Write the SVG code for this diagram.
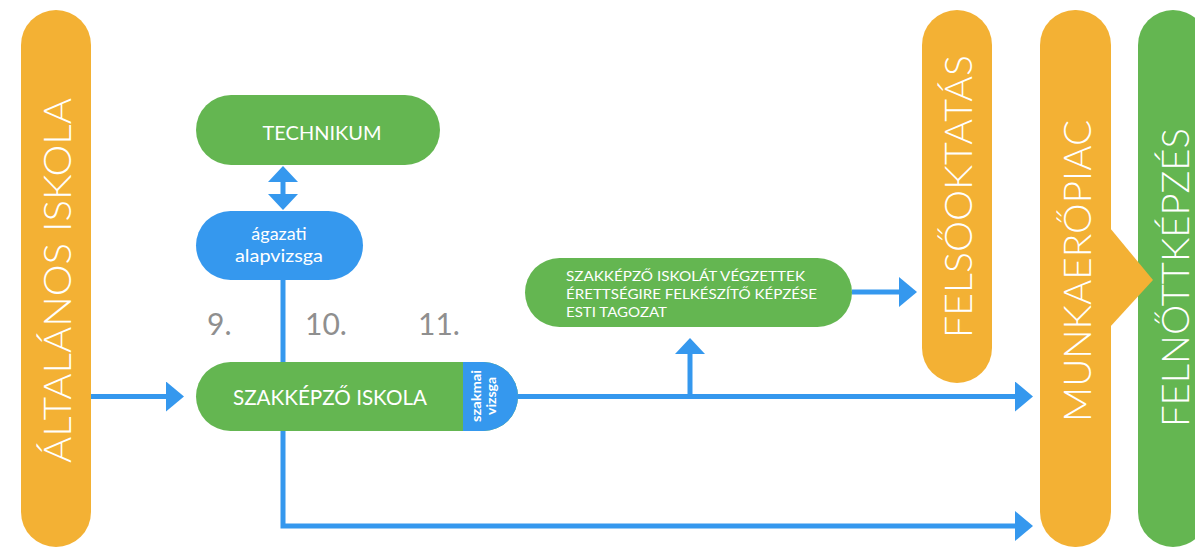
<svg xmlns="http://www.w3.org/2000/svg" width="1195" height="548" viewBox="0 0 1195 548">
<style>
.org{fill:#f3b134}
.grn{fill:#64b651}
.blu{fill:#3598ee}
.big{font-family:Lato,"Open Sans","Liberation Sans",sans-serif;font-weight:300;font-size:38px;fill:#fff;text-anchor:middle}
.lbl{font-family:Lato,"Open Sans","Liberation Sans",sans-serif;fill:#fff;text-anchor:middle}
.num{font-family:Lato,"Open Sans","Liberation Sans",sans-serif;font-size:30px;fill:#8f8f8f}
.con{fill:none;stroke:#3598ee;stroke-width:5}
</style>
<defs>
<marker id="ah" viewBox="0 0 18 30" refX="0" refY="15" markerWidth="18" markerHeight="30" markerUnits="userSpaceOnUse" orient="auto-start-reverse">
<path d="M0,0 L18,15 L0,30 Z" fill="#3598ee"/>
</marker>
<marker id="ah2" viewBox="0 0 16 30" refX="0" refY="15" markerWidth="16" markerHeight="30" markerUnits="userSpaceOnUse" orient="auto-start-reverse">
<path d="M0,0 L16,15 L0,30 Z" fill="#3598ee"/>
</marker>
</defs>

<g id="altalanos">
<rect class="org" x="21" y="10" width="70" height="537" rx="35"/>
<text class="big" transform="translate(71,280.5) rotate(-90)" textLength="365" lengthAdjust="spacingAndGlyphs">ÁLTALÁNOS ISKOLA</text>
</g>

<g id="felnottkepzes">
<rect class="grn" x="1138" y="10" width="70" height="537" rx="35"/>
<text class="big" transform="translate(1189,277.5) rotate(-90)" textLength="299" lengthAdjust="spacingAndGlyphs">FELNŐTTKÉPZÉS</text>
</g>

<g id="munkaeropiac">
<rect class="org" x="1040" y="10" width="71" height="537" rx="35"/>
<polygon class="org" points="1110,228 1153,280 1110,327"/>
<text class="big" transform="translate(1091,271) rotate(-90)" textLength="302" lengthAdjust="spacingAndGlyphs">MUNKAERŐPIAC</text>
</g>

<g id="felsooktatas">
<rect class="org" x="922" y="10" width="70" height="373" rx="35"/>
<text class="big" transform="translate(972,196.5) rotate(-90)" textLength="283" lengthAdjust="spacingAndGlyphs">FELSŐOKTATÁS</text>
</g>

<g id="technikum">
<rect class="grn" x="196" y="95" width="244" height="70" rx="35"/>
<text class="lbl" x="322" y="140" font-size="20" textLength="119" lengthAdjust="spacingAndGlyphs">TECHNIKUM</text>
</g>

<g id="agazati">
<rect class="blu" x="196" y="211" width="167" height="69" rx="34.5"/>
<text class="lbl" x="279" y="240" font-size="18">ágazati</text>
<text class="lbl" x="279" y="262" font-size="18" textLength="88" lengthAdjust="spacingAndGlyphs">alapvizsga</text>
</g>

<g id="szakkepzo">
<rect class="grn" x="196" y="362" width="322" height="69" rx="34.5"/>
<path class="blu" d="M463,362 H483.5 A34.5,34.5 0 0 1 483.5,431 H463 Z"/>
<text class="lbl" x="330" y="405" font-size="21" textLength="194" lengthAdjust="spacingAndGlyphs">SZAKKÉPZŐ ISKOLA</text>
<text class="lbl" transform="translate(481,396) rotate(-90)" font-size="13" font-weight="bold" textLength="52" lengthAdjust="spacingAndGlyphs">szakmai</text>
<text class="lbl" transform="translate(496,396) rotate(-90)" font-size="13" font-weight="bold" textLength="38" lengthAdjust="spacingAndGlyphs">vizsga</text>
</g>

<g id="esti">
<rect class="grn" x="525" y="258" width="327" height="69" rx="34.5"/>
<g font-family="Lato,'Open Sans','Liberation Sans',sans-serif" font-size="14" fill="#fff">
<text x="566" y="281" textLength="239" lengthAdjust="spacingAndGlyphs">SZAKKÉPZŐ ISKOLÁT VÉGZETTEK</text>
<text x="566" y="299" textLength="251" lengthAdjust="spacingAndGlyphs">ÉRETTSÉGIRE FELKÉSZÍTŐ KÉPZÉSE</text>
<text x="566" y="317" textLength="101" lengthAdjust="spacingAndGlyphs">ESTI TAGOZAT</text>
</g>
</g>

<g id="evfolyamok">
<text class="num" x="207" y="335">9.</text>
<text class="num" x="305" y="335">10.</text>
<text class="num" x="418" y="335">11.</text>
</g>

<g id="connectors">
<path class="con" d="M91,396.5 H166" marker-end="url(#ah)"/>
<path class="con" d="M283,182 V194" marker-start="url(#ah2)" marker-end="url(#ah2)"/>
<path class="con" d="M283,280 V362"/>
<path class="con" d="M283,431 V526 H1015" marker-end="url(#ah)"/>
<path class="con" d="M518,396.5 H1015" marker-end="url(#ah)"/>
<path class="con" d="M690,396.5 V354" marker-end="url(#ah2)"/>
<path class="con" d="M852,292 H899" marker-end="url(#ah)"/>
</g>
</svg>
